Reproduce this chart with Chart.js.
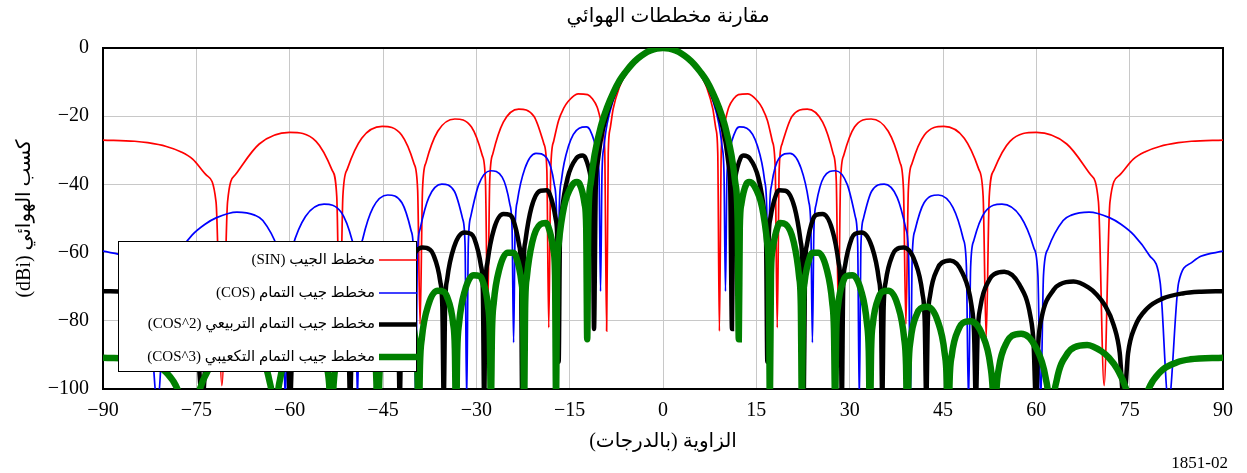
<!DOCTYPE html>
<html>
<head>
<meta charset="utf-8">
<script src="https://cdn.jsdelivr.net/npm/chart.js@4.4.1/dist/chart.umd.min.js"></script>
<style>
  body { margin: 0; background: #fff; }
</style>
</head>
<body>
<canvas id="patternChart" width="1247" height="473"></canvas>
<script>
const titleText = "مقارنة مخططات الهوائي";
const xTitle = "الزاوية (بالدرجات)";
const yTitle = "كسب الهوائي (dBi)";
const noteText = "1851-02";

const seriesLabels = [
  "مخطط الجيب (SIN)",
  "مخطط جيب التمام (COS)",
  "مخطط جيب التمام التربيعي (COS^2)",
  "مخطط جيب التمام التكعيبي (COS^3)"
];
const seriesColors = ["#ff0000", "#0000ff", "#000000", "#008000"];
const seriesWidths = [1.7, 1.7, 4.5, 6.5];

// values read for 0..90 deg, the patterns are symmetric so the left half mirrors them
const sinAngle = [0,1,2,3,4,5,6,7,8,8.5,8.8,9.06,
  9.37,9.82,10.59,11.35,12.12,13.66,15.22,16.00,16.78,17.57,18.04,18.36,
  18.67,19.15,20.75,23.19,25.66,27.34,27.85,28.19,
  28.53,29.05,30.78,33.45,36.20,38.08,38.65,39.04,
  39.43,40.02,42.01,45.13,48.42,50.74,51.45,51.94,
  52.43,53.18,55.76,60.01,64.89,68.71,69.98,70.89,
  71.83,73.34,75.59,77.52,79.82,82.81,84.91,90];
const sinGain = [0,-0.18,-0.71,-1.64,-3.01,-4.93,-7.59,-11.41,-17.8,-23.7,-30.7,-83,
  -29.85,-22.38,-17.3,-14.89,-13.69,-13.46,-15.63,-17.81,-21.23,-27.33,-35.44,-82,
  -35.73,-28.06,-20.0,-17.9,-21.74,-30.98,-39.01,-79,
  -39.2,-31.46,-23.19,-20.82,-24.43,-33.54,-41.53,-81,
  -41.68,-33.9,-25.52,-23.01,-26.49,-35.52,-43.48,-85,
  -43.6,-35.81,-27.36,-24.75,-28.15,-37.13,-45.08,-99,
  -45.17,-37.37,-32.58,-30.41,-28.87,-27.77,-27.35,-27.0];

const cosAngle = [0,1,2,3,4,5,6,7,8,9,9.5,9.8,10.04,
  10.27,10.61,11.74,12.31,13.47,15.17,16.32,16.67,16.9,
  17.13,17.48,18.65,20.42,22.2,23.41,23.77,24.01,
  24.25,24.62,25.85,27.72,29.62,30.9,31.29,31.55,
  31.81,32.2,33.53,35.55,37.63,39.04,39.47,39.76,
  40.05,40.48,41.96,44.24,46.61,48.26,48.76,49.1,
  49.44,49.95,51.71,54.48,57.46,59.59,60.25,60.7,
  61.15,61.86,64.31,65.63,68.47,71.74,73.6,75.69,78.15,79.9,81.25,
  82.86,84.95,86.43,90];
const cosGain = [0,-0.18,-0.74,-1.69,-3.07,-4.95,-7.42,-10.7,-15.3,-22.4,-29,-36.5,-71.4,
  -38.11,-30.85,-24.03,-23.15,-23.52,-28.7,-38.73,-46.98,-75,
  -47.46,-39.94,-32.33,-30.88,-35.32,-44.94,-53.08,-86.4,
  -53.41,-45.78,-37.86,-35.99,-40.07,-49.47,-57.55,-104,
  -57.81,-50.12,-42.02,-39.91,-43.78,-53.06,-61.1,-104,
  -61.31,-53.59,-45.37,-43.11,-46.83,-56.02,-64.04,-104,
  -64.22,-56.47,-48.18,-45.8,-49.42,-58.55,-66.55,-104,
  -66.7,-58.94,-50.59,-49.01,-48.13,-49.74,-51.68,-54.86,-60.76,-68.74,-104,
  -68.88,-62.96,-61.1,-59.59];

const cos2Angle = [0,1,2,3,4,5,6,7,8,9,10,10.5,10.8,11.09,
  11.28,11.56,12.49,12.97,13.91,15.33,16.29,16.57,16.77,
  16.96,17.25,18.21,18.7,19.67,21.14,22.12,22.42,22.62,
  22.82,23.12,24.12,24.63,25.64,27.18,28.21,28.53,28.74,
  28.95,29.27,30.32,30.85,31.93,33.57,34.68,35.02,35.24,
  35.46,35.8,36.94,37.51,38.68,40.47,41.69,42.06,42.31,
  42.56,42.93,44.2,44.84,46.15,48.18,49.58,49.99,50.28,
  50.57,51,52.49,53.25,54.84,57.28,59.04,59.56,59.93,
  60.3,60.85,62.81,63.82,65.98,68.35,69.64,71.0,72.46,73.4,74.06,
  74.74,75.83,77.84,80.26,83.51,86.5,90];
const cos2Gain = [0,-0.19,-0.74,-1.69,-3.06,-4.86,-7.2,-10.2,-14.07,-19.2,-27,-33.6,-40.5,-82.4,
  -45.65,-38.53,-32.17,-31.51,-32.3,-38.08,-48.49,-56.85,-92,
  -57.48,-50.06,-42.8,-41.75,-41.85,-46.75,-56.67,-64.9,-104,
  -65.35,-57.81,-50.16,-48.93,-48.7,-53.16,-62.82,-70.97,-104,
  -71.32,-63.71,-55.84,-54.5,-54.07,-58.27,-67.76,-75.86,-104,
  -76.15,-68.49,-60.48,-59.07,-58.51,-62.52,-71.89,-79.96,-104,
  -80.21,-72.52,-64.41,-62.95,-62.29,-66.17,-75.46,-83.5,-104,
  -83.72,-76,-67.81,-66.32,-65.59,-69.36,-78.59,-86.61,-104,
  -86.81,-79.07,-70.82,-69.29,-68.51,-70.22,-72.2,-75.43,-81.38,-89.39,-104,
  -89.56,-81.81,-76.31,-73.51,-71.97,-71.47,-71.32];

const cos3Angle = [0,1,2,3,4,5,6,7,8,9,10,11,11.6,12,12.18,
  12.34,12.59,13.42,13.83,14.66,15.92,16.76,17.01,17.18,
  17.35,17.6,18.45,18.87,19.73,21.02,21.88,22.15,22.32,
  22.49,22.76,23.63,24.07,24.96,26.3,27.2,27.48,27.66,
  27.84,28.12,29.03,29.49,30.42,31.83,32.78,33.07,33.26,
  33.45,33.74,34.72,35.22,36.2,37.72,38.75,39.06,39.27,
  39.48,39.79,40.85,41.38,42.46,44.13,45.26,45.6,45.83,
  46.06,46.41,47.59,48.2,49.42,51.3,52.64,53.02,53.29,
  53.56,53.97,55.37,56.08,57.56,59.88,61.53,62.03,62.38,
  62.73,63.27,65.11,66.09,68.17,70.44,71.7,73.02,74.46,75.39,76.04,
  76.72,77.82,79.91,82.55,84.73,90];
const cos3Gain = [0,-0.18,-0.74,-1.66,-2.99,-4.75,-7.0,-9.6,-13.16,-17.5,-23.1,-31.4,-39.3,-50.8,-85.4,
  -52.82,-45.81,-39.8,-39.3,-40.42,-46.67,-57.38,-65.83,-104,
  -66.57,-59.24,-52.26,-51.35,-51.71,-57.0,-67.17,-75.47,-104,
  -76.02,-68.55,-61.14,-60.02,-60.01,-64.81,-74.67,-82.89,-104,
  -83.32,-75.77,-68.11,-66.87,-66.63,-71.11,-80.79,-88.94,-110,
  -88.3,-80.7,-72.9,-71.5,-71.2,-75.4,-85.0,-93.1,-115,
  -93.4,-85.7,-77.8,-76.4,-75.9,-80.0,-89.4,-97.5,-120,
  -97.8,-90.1,-82.1,-80.6,-80.1,-84.0,-93.4,-101.5,-120,
  -101.7,-94.0,-85.9,-84.4,-83.8,-87.7,-97.0,-105.0,-125,
  -105.2,-97.5,-89.3,-87.8,-87.1,-88.9,-90.9,-94.2,-100.2,-108.2,-125,
  -109.4,-101,-95,-92.2,-91.3,-90.8];

const serif = '"Liberation Serif", "Times New Roman", "DejaVu Sans", serif';
const rtl = s => "\u202B" + s + "\u202C";
const minus = v => (v < 0 ? "\u2212" + Math.abs(v) : String(v));

function mirror(angles, gains) {
  let pts = [];
  for (let i = angles.length - 1; i > 0; i--) pts.push({x: -angles[i], y: gains[i]});
  for (let i = 0; i < angles.length; i++) pts.push({x: angles[i], y: gains[i]});
  return pts;
}

const seriesData = [
  mirror(sinAngle, sinGain),
  mirror(cosAngle, cosGain),
  mirror(cos2Angle, cos2Gain),
  mirror(cos3Angle, cos3Gain)
];

let datasets = [];
for (let i = 0; i < seriesLabels.length; i++) {
  datasets.push({
    label: seriesLabels[i],
    data: seriesData[i],
    borderColor: seriesColors[i],
    borderWidth: seriesWidths[i],
    pointRadius: 0,
    fill: false,
    cubicInterpolationMode: "monotone",
    order: seriesLabels.length - i   // red drawn first, green last (on top)
  });
}

const framePlugin = {
  id: "frame",
  beforeDatasetsDraw(chart) {
    const {ctx, chartArea: a} = chart;
    ctx.save();
    ctx.strokeStyle = "#000";
    ctx.lineWidth = 2;
    ctx.strokeRect(a.left, a.top, a.right - a.left, a.bottom - a.top);
    ctx.restore();
  }
};

const boxLegend = {
  id: "boxLegend",
  afterDatasetsDraw(chart) {
    const ctx = chart.ctx;
    ctx.save();
    ctx.fillStyle = "#fff";
    ctx.fillRect(118, 241, 299, 131);
    ctx.strokeStyle = "#000";
    ctx.lineWidth = 1;
    ctx.strokeRect(118.5, 241.5, 298, 130);
    const rows = [260, 293, 324.5, 357];
    ctx.font = "15px " + serif;
    ctx.textBaseline = "middle";
    ctx.direction = "rtl";
    ctx.textAlign = "right";
    seriesLabels.forEach((lab, i) => {
      ctx.fillStyle = "#000";
      ctx.fillText(lab, 375, rows[i]);
      ctx.beginPath();
      ctx.strokeStyle = seriesColors[i];
      ctx.lineWidth = seriesWidths[i];
      ctx.moveTo(379, rows[i]);
      ctx.lineTo(417, rows[i]);
      ctx.stroke();
    });
    ctx.restore();
  },
  afterDraw(chart) {
    const ctx = chart.ctx;
    ctx.save();
    ctx.fillStyle = "#000";
    // chart title
    ctx.font = "20px " + serif;
    ctx.direction = "rtl";
    ctx.textAlign = "center";
    ctx.textBaseline = "middle";
    ctx.fillText(titleText, 668, 17);
    // figure number
    ctx.direction = "ltr";
    ctx.font = "17px " + serif;
    ctx.textAlign = "right";
    ctx.textBaseline = "alphabetic";
    ctx.fillText(noteText, 1228, 468);
    ctx.restore();
  }
};

new Chart(document.getElementById("patternChart"), {
  type: "line",
  data: { datasets: datasets },
  options: {
    responsive: false,
    animation: false,
    layout: { padding: { left: 0, right: 24, top: 48, bottom: 0 } },
    plugins: {
      legend: { display: false },
      tooltip: { enabled: false },
      title: { display: false }
    },
    scales: {
      x: {
        type: "linear",
        min: -90,
        max: 90,
        ticks: { stepSize: 15, color: "#000", padding: 10, font: { family: serif, size: 20 }, callback: minus },
        grid: { color: "#c8c8c8", lineWidth: 1, drawTicks: false },
        border: { display: false },
        title: { display: true, text: rtl(xTitle), color: "#000", font: { family: serif, size: 20 }, padding: { top: 0, bottom: 19 } },
        afterFit: s => { s.height = 84; }
      },
      y: {
        min: -100,
        max: 0,
        ticks: { stepSize: 20, color: "#000", padding: 14, font: { family: serif, size: 20 }, callback: minus },
        grid: { color: "#c8c8c8", lineWidth: 1, drawTicks: false },
        border: { display: false },
        title: { display: true, text: rtl(yTitle), color: "#000", font: { family: serif, size: 20 }, padding: { top: 13, bottom: 0 } },
        afterFit: s => { s.width = 103; }
      }
    }
  },
  plugins: [framePlugin, boxLegend]
});
</script>
</body>
</html>
